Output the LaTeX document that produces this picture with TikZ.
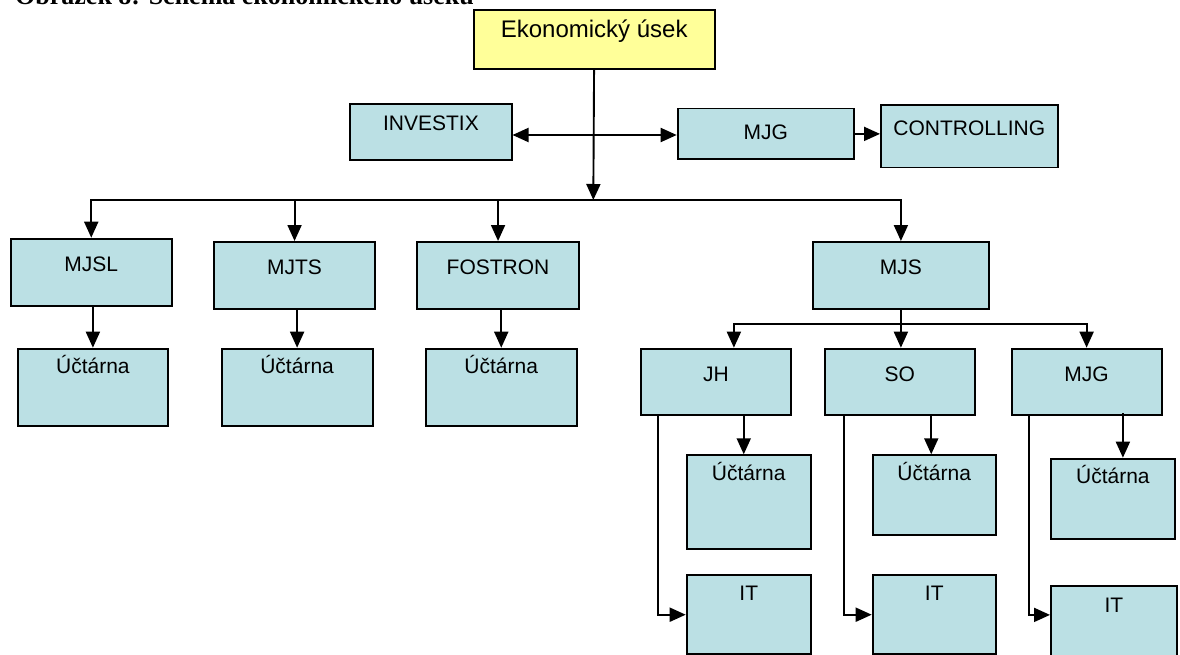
\documentclass[tikz,border=0pt]{standalone}
\usepackage{fontspec}
\setmainfont{Liberation Sans}
\newfontfamily\capfont{Liberation Serif}
\usepackage{tikz}
\usetikzlibrary{arrows.meta, calc}

\definecolor{boxfill}{RGB}{187,224,228}
\definecolor{topfill}{RGB}{255,255,153}

\begin{document}
\begin{tikzpicture}[
    x=1pt, y=-1pt,
    box/.style={draw, line width=1.8pt, fill=boxfill, inner sep=0pt, anchor=north west, align=center, font=\fontsize{21pt}{25pt}\selectfont},
    headbox/.style={box, fill=topfill, font=\fontsize{24pt}{28pt}\selectfont},
    unitbox/.style={box, minimum width=161pt, text height=33pt, text depth=34pt},
    deptbox/.style={box, minimum width=150pt, text height=33pt, text depth=33.6pt},
    accbox/.style={box, minimum width=150pt, text height=25pt, text depth=52.3pt},
    smallbox/.style={box, minimum width=124pt, text height=25pt},
    arrow/.style={line width=1.9pt, -{Triangle[length=16pt,width=14pt]}}
]
\useasboundingbox (0,0) rectangle (1180,655);

% caption (cut off at the top edge)
\node[inner sep=0pt, anchor=base west, font=\capfont\bfseries\fontsize{26pt}{30pt}\selectfont] (caption) at (15,4.5) {Obrázek 8: Schéma ekonomického úseku};

% top level
\node[headbox, minimum width=241.3pt, text height=27.7pt, text depth=31.3pt] (eko) at (472.7,9) {Ekonomický úsek};
\node[box, minimum width=161.4pt, text height=26.7pt, text depth=29.3pt] (investix) at (349.3,103.3) {INVESTIX};
\node[box, minimum width=176.6pt, text height=30.6pt, text depth=20pt] (mjg) at (676.7,107.7) {MJG};
\node[box, minimum width=176.7pt, text height=30.7pt, text depth=31.7pt] (controlling) at (880,104.3) {CONTROLLING};

% second level
\node[unitbox, minimum width=160.7pt] (mjsl) at (10,237.7) {MJSL};
\node[unitbox, minimum width=160.7pt] (mjts) at (213.3,241) {MJTS};
\node[unitbox, minimum width=162.3pt] (fostron) at (416,241) {FOSTRON};
\node[unitbox, minimum width=176.6pt] (mjs) at (811.7,241) {MJS};

% accounting under the units
\node[accbox, minimum width=149.4pt] (u1) at (17.3,347.7) {Účtárna};
\node[accbox, minimum width=151pt] (u2) at (220.7,347.7) {Účtárna};
\node[accbox, minimum width=150.7pt] (u3) at (425,347.7) {Účtárna};

% MJS branches
\node[deptbox] (jh) at (640,347.7) {JH};
\node[deptbox] (so) at (824,347.7) {SO};
\node[deptbox] (mjg2) at (1010.7,347.7) {MJG};

\node[smallbox, minimum width=124.3pt, text depth=68.4pt] (ujh) at (685.7,454.3) {Účtárna};
\node[smallbox, minimum width=123.3pt, text depth=55pt] (uso) at (871.7,454.3) {Účtárna};
\node[smallbox, minimum width=124pt, text depth=55pt] (umjg) at (1050,457.7) {Účtárna};

\node[smallbox, minimum width=124.3pt, text depth=54pt] (itjh) at (685.7,574.3) {IT};
\node[smallbox, minimum width=123.3pt, text depth=54pt] (itso) at (871.7,574.3) {IT};
\node[smallbox, minimum width=126pt, text height=26.7pt, text depth=68.3pt] (itmjg) at (1050,585) {IT};

% connectors
\coordinate (bus) at (593.3,200);
\coordinate (cross) at (593.3,135);
\coordinate (fork) at (900,324);

\draw[arrow] (eko) -- (bus);
\draw[arrow] (cross) -- (cross -| investix.east);
\draw[arrow] (cross) -- (cross -| mjg.west);
\draw[arrow] (mjg.east) -- (mjg.east -| controlling.west);

\foreach \n in {mjsl,mjts,fostron,mjs}
  \draw[arrow] (bus) -| (\n.north);
\foreach \a/\b in {mjsl/u1,mjts/u2,fostron/u3}
  \draw[arrow] (\b.north |- \a.south) -- (\b.north);

\draw[arrow] (mjs.south) -- (mjs.south |- so.north);
\draw[arrow] (fork) -| ([xshift=18pt]jh.north);
\draw[arrow] (fork) -| (mjg2.north);

\draw[arrow] ([xshift=-5pt]ujh.north |- jh.south) -- ([xshift=-5pt]ujh.north);
\draw[arrow] ([xshift=-3pt]uso.north |- so.south) -- ([xshift=-3pt]uso.north);
\draw[arrow] ([xshift=10pt,yshift=3pt]umjg.north |- mjg2.south) -- ([xshift=10pt]umjg.north);

\draw[arrow] ([xshift=18pt]jh.south west) |- (itjh.west);
\draw[arrow] ([xshift=20pt]so.south west) |- (itso.west);
\draw[arrow] ([xshift=18pt]mjg2.south west) |- ([yshift=18.5pt]itmjg.west);
\end{tikzpicture}
\end{document}
